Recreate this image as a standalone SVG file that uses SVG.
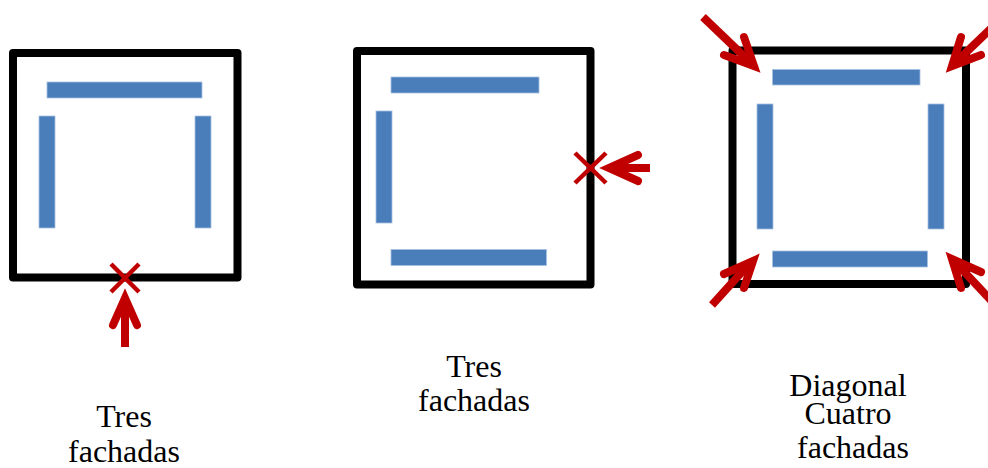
<svg xmlns="http://www.w3.org/2000/svg" width="988" height="468" viewBox="0 0 988 468">
<style>
.box{fill:#fff;stroke:#000;stroke-width:8;stroke-linejoin:round}
.bar{fill:#4a7ebb;stroke:#a9c1e0;stroke-width:0.8}
.x{stroke:#c00000;stroke-width:4.5;fill:none}
.shaft{stroke:#c00000;stroke-width:8;fill:none;stroke-linecap:butt}
.head{stroke:#c00000;stroke-width:8;fill:none;stroke-linecap:round;stroke-linejoin:miter;stroke-miterlimit:10}
text{font-family:"Liberation Serif","Times New Roman",serif;font-size:32px;fill:#000;text-anchor:middle}
</style>
<g id="node-1">
<rect class="box" x="13" y="53" width="224.5" height="224.5"/>
<rect class="bar" x="47" y="82" width="155" height="16"/>
<rect class="bar" x="39" y="116" width="16" height="112"/>
<rect class="bar" x="195" y="116" width="16" height="112"/>
<text x="124" y="427">Tres</text>
<text x="124" y="462">fachadas</text>
</g>
<g id="node-2">
<rect class="box" x="357" y="51" width="233.5" height="233.5"/>
<rect class="bar" x="391" y="77" width="148" height="16"/>
<rect class="bar" x="376" y="111" width="16" height="112"/>
<rect class="bar" x="391" y="249.5" width="155.5" height="16"/>
<text x="474" y="377">Tres</text>
<text x="474" y="411">fachadas</text>
</g>
<g id="node-3">
<rect class="box" x="732.5" y="50.5" width="233.5" height="233.5"/>
<rect class="bar" x="772.5" y="69.5" width="147.5" height="15.5"/>
<rect class="bar" x="757" y="104" width="16" height="125"/>
<rect class="bar" x="928" y="104" width="16" height="125"/>
<rect class="bar" x="772.5" y="251" width="155" height="16"/>
<text x="848" y="396">Diagonal</text>
<text x="848" y="424">Cuatro</text>
<text x="853" y="458">fachadas</text>
</g>
<g id="connectors">
<path class="x" d="M111,264 L139,292 M139,264 L111,292"/>
<path class="shaft" d="M125,347 L125,300"/>
<path class="head" d="M113,325 L125,298 L137,325"/>
<path class="x" d="M575,153 L606,183 M606,153 L575,183"/>
<path class="shaft" d="M650,168 L612,168"/>
<path class="head" d="M638,155 L609,168 L638,181"/>
<path class="shaft" d="M703,17 L751,63"/>
<path class="head" d="M724,55 L754,66 L744,37"/>
<path class="shaft" d="M1003,17 L955,63"/>
<path class="head" d="M961,37 L952,66 L981,55"/>
<path class="shaft" d="M712,305 L750,263"/>
<path class="head" d="M724,274 L753,261 L744,288"/>
<path class="shaft" d="M1000,310 L955,262"/>
<path class="head" d="M961,288 L952,259 L981,272"/>
</g>
</svg>
